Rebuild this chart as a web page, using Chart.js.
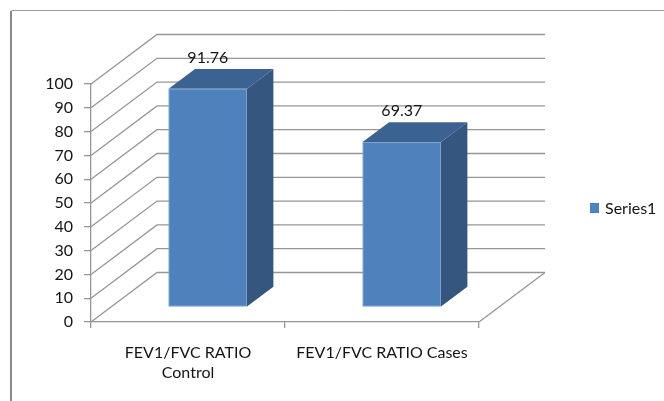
<!DOCTYPE html>
<html><head><meta charset="utf-8">
<script src="https://cdn.jsdelivr.net/npm/chart.js@4.4.0/dist/chart.umd.min.js"></script>
<style>html,body{margin:0;padding:0;background:#fff;overflow:hidden}</style>
</head><body>
<canvas id="c" width="664" height="401"></canvas>
<script>
const categories = [['FEV1/FVC RATIO', 'Control'], 'FEV1/FVC RATIO Cases'];
const seriesName = 'Series1';
const values = [91.76, 69.37];
const valueLabels = ['91.76', '69.37'];
const yMin = 0, yMax = 100, yStep = 10;

const FONT = "Lato, 'Liberation Sans', sans-serif";
const TEXT = '#141414';
const GRID = '#969696';
const FRONT = '#4F81BD', SIDE = '#34567F', TOP = '#3C6292';
const DX = 66, DY = -49.5, D1 = 0.30, D2 = 0.70;

const threeD = {
  id: 'threeD',
  beforeDraw(chart) {
    const ctx = chart.ctx;
    ctx.save();
    ctx.fillStyle = '#fff';
    ctx.fillRect(0, 0, chart.width, chart.height);
    ctx.strokeStyle = '#9a9a9a';
    ctx.lineWidth = 1;
    ctx.beginPath();
    ctx.moveTo(680, 10.5); ctx.lineTo(11.5, 10.5); ctx.lineTo(11.5, 420);
    ctx.stroke();
    ctx.strokeStyle = '#8a8a8a';
    ctx.lineWidth = 2;
    ctx.beginPath(); ctx.moveTo(11, 11); ctx.lineTo(11, 420); ctx.stroke();
    ctx.restore();
  },
  beforeDatasetsDraw(chart) {
    const ctx = chart.ctx, a = chart.chartArea, ys = chart.scales.y;
    ctx.save();
    ctx.strokeStyle = GRID;
    ctx.lineWidth = 1.3;
    ys.ticks.forEach(t => {
      const y = ys.getPixelForValue(t.value);
      ctx.beginPath();
      ctx.moveTo(a.left, y);
      ctx.lineTo(a.left + DX, y + DY);
      ctx.lineTo(a.right + DX, y + DY);
      ctx.stroke();
    });
    // floor right edge
    ctx.beginPath();
    ctx.moveTo(a.right, a.bottom);
    ctx.lineTo(a.right + DX, a.bottom + DY);
    ctx.stroke();
    ctx.restore();
  },
  afterDatasetsDraw(chart) {
    const ctx = chart.ctx;
    const meta = chart.getDatasetMeta(0);
    ctx.save();
    meta.data.forEach((el, i) => {
      const w = el.width;
      const x0 = el.x - w / 2 + D1 * DX, x1 = x0 + w;
      const yt = el.y + D1 * DY, yb = el.base + D1 * DY;
      const ox = (D2 - D1) * DX, oy = (D2 - D1) * DY;
      // side
      ctx.fillStyle = SIDE;
      ctx.beginPath();
      ctx.moveTo(x1, yt); ctx.lineTo(x1 + ox, yt + oy); ctx.lineTo(x1 + ox, yb + oy); ctx.lineTo(x1, yb); ctx.closePath();
      ctx.fill();
      // top
      ctx.fillStyle = TOP;
      ctx.beginPath();
      ctx.moveTo(x0, yt); ctx.lineTo(x0 + ox, yt + oy); ctx.lineTo(x1 + ox, yt + oy); ctx.lineTo(x1, yt); ctx.closePath();
      ctx.fill();
      // front
      ctx.fillStyle = FRONT;
      ctx.fillRect(x0, yt, w, yb - yt);
      ctx.strokeStyle = 'rgba(255,255,255,0.25)';
      ctx.lineWidth = 1;
      ctx.strokeRect(x0 + 0.5, yt + 0.5, w - 1, yb - yt - 1);
      // value label
      ctx.fillStyle = TEXT;
      ctx.font = '16px ' + FONT;
      ctx.textAlign = 'center';
      ctx.textBaseline = 'bottom';
      ctx.fillText(valueLabels[i], x0 + w / 2, yt + oy - 3);
    });
    ctx.restore();
  },
  afterDraw(chart) {
    const ctx = chart.ctx;
    const ds = chart.data.datasets[0];
    ctx.save();
    ctx.fillStyle = FRONT;
    ctx.fillRect(590, 203, 9, 10);
    ctx.fillStyle = TEXT;
    ctx.font = '16px ' + FONT;
    ctx.textAlign = 'left';
    ctx.textBaseline = 'middle';
    ctx.fillText(ds.label, 605, 208.5);
    ctx.restore();
  }
};

new Chart(document.getElementById('c'), {
  type: 'bar',
  data: {
    labels: categories,
    datasets: [{
      label: seriesName,
      data: values,
      backgroundColor: 'rgba(0,0,0,0)',
      borderWidth: 0,
      barPercentage: 0.404,
      categoryPercentage: 1.0
    }]
  },
  options: {
    responsive: false,
    devicePixelRatio: 1,
    animation: false,
    layout: { padding: { top: 84, left: 0, right: 185, bottom: 0 } },
    plugins: { legend: { display: false }, tooltip: { enabled: false } },
    scales: {
      x: {
        afterFit(s) { s.height = 79; },
        grid: { drawOnChartArea: false, drawTicks: true, tickLength: 6, color: GRID, lineWidth: 1.3, offset: true },
        border: { display: true, color: GRID, width: 1.3 },
        ticks: { color: TEXT, font: { family: FONT, size: 16, lineHeight: 1.3 }, padding: 14, maxRotation: 0, autoSkip: false }
      },
      y: {
        min: yMin, max: yMax,
        afterFit(s) { s.width = 91; },
        grid: { drawOnChartArea: false, drawTicks: true, tickLength: 7, color: GRID, lineWidth: 1.3 },
        border: { display: true, color: GRID, width: 1.3 },
        ticks: { stepSize: yStep, color: TEXT, font: { family: FONT, size: 16 }, padding: 11 }
      }
    }
  },
  plugins: [threeD]
});
</script>
</body></html>
